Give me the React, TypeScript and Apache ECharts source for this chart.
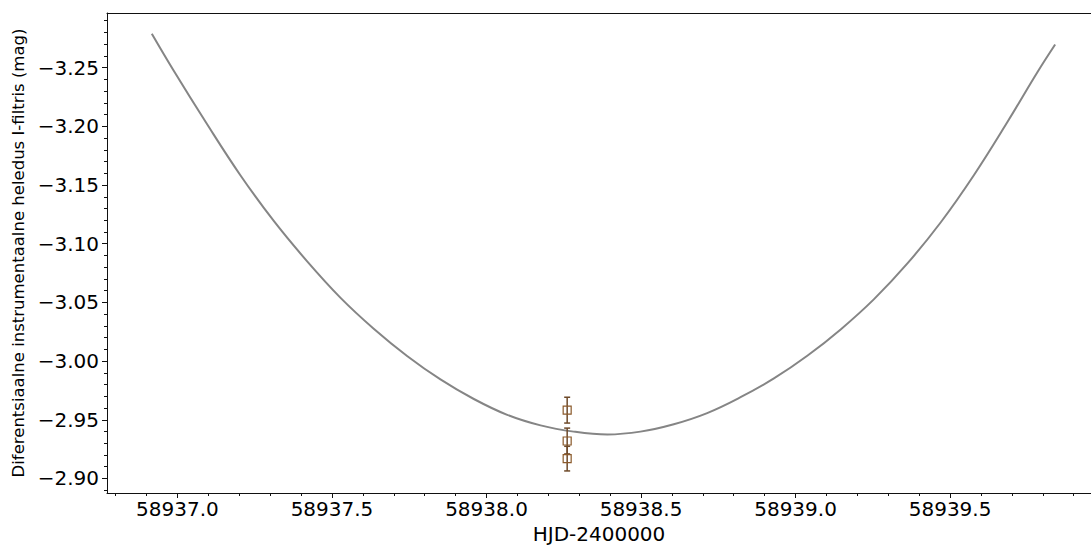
import React, { useEffect, useRef } from "react";
import * as echarts from "echarts";

// Fitted light-curve
const fitX = [58936.917, 58936.987, 58937.095, 58937.203, 58937.311, 58937.419, 58937.527, 58937.635, 58937.743, 58937.851, 58937.959, 58938.067, 58938.175, 58938.282, 58938.391, 58938.498, 58938.606, 58938.714, 58938.822, 58938.93, 58939.038, 58939.146, 58939.254, 58939.362, 58939.47, 58939.578, 58939.686, 58939.783, 58939.84];
const fitY = [-3.2789, -3.2478, -3.2022, -3.1586, -3.1196, -3.0852, -3.0541, -3.0276, -3.0044, -2.9844, -2.9677, -2.9542, -2.9452, -2.9399, -2.9375, -2.9399, -2.9462, -2.9557, -2.9692, -2.9852, -3.0045, -3.027, -3.0528, -3.0832, -3.1183, -3.1588, -3.2039, -3.2463, -3.2697];

// Observations with error bars
const obsX = [58938.261, 58938.261, 58938.261];
const obsY = [-2.9582, -2.9319, -2.9169];
const obsErr = [0.011, 0.011, 0.0105];

// Tick labels
const xTicks = [58937.0, 58937.5, 58938.0, 58938.5, 58939.0, 58939.5];
const yTicks = [-3.25, -3.2, -3.15, -3.1, -3.05, -3.0, -2.95, -2.9];

const X_MIN = 58936.772;
const X_MAX = 58939.956;
const Y_MIN = -3.2966;
const Y_MAX = -2.8876;

const xMinor: number[] = [];
for (let i = 0; i <= 32; i++) {
  const v = Math.round((58936.8 + i * 0.1) * 10) / 10;
  if (v >= X_MIN && v <= X_MAX) xMinor.push(v);
}
const yMinor: number[] = [];
for (let i = 0; i <= 41; i++) {
  const v = Math.round((-3.29 + i * 0.01) * 100) / 100;
  if (v >= Y_MIN && v <= Y_MAX) yMinor.push(v);
}

const FONT = "DejaVu Sans";
const AX = "#111";

export default function App() {
  const ref = useRef<HTMLDivElement>(null);
  useEffect(() => {
    if (!ref.current) return;
    const chart = echarts.init(ref.current, null, { renderer: "svg" });
    const fitData = fitX.map((x, i) => [x, fitY[i]]);
    const obsData = obsX.map((x, i) => [x, obsY[i], obsErr[i]]);
    chart.setOption({
      animation: false,
      backgroundColor: "#fff",
      grid: { left: 107, right: 0, top: 13, bottom: 53, containLabel: false },
      xAxis: [
        {
          type: "value",
          min: X_MIN,
          max: X_MAX,
          position: "bottom",
          name: "HJD-2400000",
          nameLocation: "middle",
          nameGap: 31,
          nameTextStyle: { fontFamily: FONT, fontSize: 20, color: "#000" },
          axisLine: { show: true, onZero: false, lineStyle: { color: AX, width: 1 } },
          axisTick: { show: true, inside: false, length: 5, customValues: xTicks, lineStyle: { color: AX } },
          axisLabel: {
            show: true,
            customValues: xTicks,
            margin: 6,
            fontFamily: FONT,
            fontSize: 20,
            color: "#000",
            formatter: (v: number) => v.toFixed(1),
          },
          splitLine: { show: false },
        },
        {
          type: "value",
          min: X_MIN,
          max: X_MAX,
          position: "bottom",
          axisLine: { show: false, onZero: false },
          axisTick: { show: true, inside: false, length: 3, customValues: xMinor, lineStyle: { color: AX } },
          axisLabel: { show: false },
          splitLine: { show: false },
        },
        {
          type: "value",
          min: X_MIN,
          max: X_MAX,
          position: "top",
          axisLine: { show: true, onZero: false, lineStyle: { color: AX, width: 1 } },
          axisTick: { show: false },
          axisLabel: { show: false },
          splitLine: { show: false },
        },
      ],
      yAxis: [
        {
          type: "value",
          inverse: true,
          min: Y_MIN,
          max: Y_MAX,
          position: "left",
          name: "Diferentsiaalne instrumentaalne heledus I-filtris (mag)",
          nameLocation: "middle",
          nameGap: 79,
          nameTextStyle: { fontFamily: FONT, fontSize: 16.5, color: "#000" },
          axisLine: { show: true, onZero: false, lineStyle: { color: AX, width: 1 } },
          axisTick: { show: true, inside: false, length: 5, customValues: yTicks, lineStyle: { color: AX } },
          axisLabel: {
            show: true,
            customValues: yTicks,
            margin: 8,
            fontFamily: FONT,
            fontSize: 20,
            color: "#000",
            formatter: (v: number) => (v < 0 ? "\u2212" : "") + Math.abs(v).toFixed(2),
          },
          splitLine: { show: false },
        },
        {
          type: "value",
          inverse: true,
          min: Y_MIN,
          max: Y_MAX,
          position: "left",
          axisLine: { show: false, onZero: false },
          axisTick: { show: true, inside: false, length: 3, customValues: yMinor, lineStyle: { color: AX } },
          axisLabel: { show: false },
          splitLine: { show: false },
        },
      ],
      series: [
        {
          type: "line",
          xAxisIndex: 0,
          yAxisIndex: 0,
          data: fitData,
          smooth: 0.4,
          showSymbol: false,
          symbol: "none",
          lineStyle: { color: "#858585", width: 2 },
          z: 2,
        },
        {
          type: "custom",
          xAxisIndex: 0,
          yAxisIndex: 0,
          data: obsData,
          encode: { x: 0, y: 1 },
          z: 3,
          renderItem: (params: any, api: any) => {
            const x = api.value(0);
            const y = api.value(1);
            const e = api.value(2);
            const c = api.coord([x, y]);
            const t = api.coord([x, y - e]);
            const b = api.coord([x, y + e]);
            const col = "#6e4a2a";
            const st = { stroke: col, lineWidth: 1.5 };
            return {
              type: "group",
              children: [
                { type: "line", shape: { x1: c[0], y1: t[1], x2: c[0], y2: b[1] }, style: st },
                { type: "line", shape: { x1: c[0] - 3, y1: t[1], x2: c[0] + 3, y2: t[1] }, style: st },
                { type: "line", shape: { x1: c[0] - 3, y1: b[1], x2: c[0] + 3, y2: b[1] }, style: st },
                {
                  type: "rect",
                  shape: { x: c[0] - 4, y: c[1] - 4, width: 8, height: 8 },
                  style: { fill: "none", stroke: "#8b5a2b", lineWidth: 1.2 },
                },
              ],
            };
          },
        },
      ],
    });
    return () => chart.dispose();
  }, []);
  return (
    <div
      ref={ref}
      style={{ position: "fixed", left: 0, top: 0, width: 1091, height: 549, background: "#fff" }}
    />
  );
}
